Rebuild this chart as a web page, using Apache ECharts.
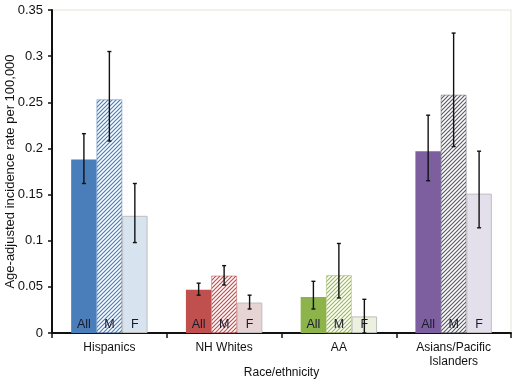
<!DOCTYPE html>
<html><head><meta charset="utf-8">
<script src="https://cdn.jsdelivr.net/npm/echarts@6/dist/echarts.min.js"></script>
<style>html,body{margin:0;padding:0;background:#fff}#c{width:520px;height:383px}</style>
</head><body><div id="c"></div>
<script>
const categories = ['Hispanics', 'NH Whites', 'AA', 'Asians/Pacific\nIslanders'];
const groupLabels = ['All', 'M', 'F'];
const allValues = [0.188, 0.047, 0.039, 0.197];
const allLow    = [0.162, 0.041, 0.026, 0.165];
const allHigh   = [0.216, 0.054, 0.056, 0.236];
const mValues   = [0.253, 0.062, 0.0625, 0.258];
const mLow      = [0.208, 0.052, 0.038, 0.202];
const mHigh     = [0.305, 0.073, 0.097, 0.325];
const fValues   = [0.127, 0.033, 0.018, 0.151];
const fLow      = [0.098, 0.026, 0.0, 0.114];
const fHigh     = [0.162, 0.041, 0.0365, 0.197];
const yTicks = [0, 0.05, 0.1, 0.15, 0.2, 0.25, 0.3, 0.35];

const solidColors = ['#4a7ebb', '#c0504d', '#8db34b', '#7d5fa0'];
const hatchColors = ['#4a7ebb', '#c0504d', '#9bbb59', '#5a5a6a'];
const lightColors = ['#d7e3ee', '#e6d4d4', '#ebf1de', '#e3e0ec'];

function hatch(color) {
  const s = 4;
  const c = document.createElement('canvas');
  c.width = s; c.height = s;
  const g = c.getContext('2d');
  g.fillStyle = '#fff'; g.fillRect(0, 0, s, s);
  g.strokeStyle = color; g.lineWidth = 1.2;
  g.beginPath();
  g.moveTo(0, s); g.lineTo(s, 0);
  g.moveTo(-1, 1); g.lineTo(1, -1);
  g.moveTo(s - 1, s + 1); g.lineTo(s + 1, s - 1);
  g.stroke();
  return { image: c, repeat: 'repeat' };
}

const BAR_FRAC = 0.222;
const labelStyle = (t) => ({ show: true, position: 'insideBottom', distance: 2, formatter: t, color: '#1a1a2e', fontSize: 12.5, fontFamily: 'Liberation Sans, Arial, sans-serif' });

const allData = allValues.map((v, i) => ({ value: v, itemStyle: { color: solidColors[i] } }));
const mData = mValues.map((v, i) => ({ value: v, itemStyle: { color: hatch(hatchColors[i]), borderColor: hatchColors[i], borderWidth: 0.5 } }));
const fData = fValues.map((v, i) => ({ value: v, itemStyle: { color: lightColors[i], borderColor: '#bdbdbd', borderWidth: 1 } }));

const errData = [];
[[allLow, allHigh], [mLow, mHigh], [fLow, fHigh]].forEach((p, s) => {
  categories.forEach((c, i) => errData.push([i, s, p[0][i], p[1][i]]));
});

const chart = echarts.init(document.getElementById('c'));
chart.setOption({
  animation: false,
  textStyle: { fontFamily: 'Liberation Sans, Arial, sans-serif' },
  grid: { left: 52, right: 9, top: 10, bottom: 50, outerBoundsMode: 'none', containLabel: false, show: true, borderColor: '#e4e4d4', borderWidth: 1 },
  xAxis: {
    type: 'category', data: categories,
    name: 'Race/ethnicity', nameLocation: 'middle', nameGap: 34, nameMoveOverlap: false,
    nameTextStyle: { fontSize: 12, color: '#111' },
    axisLine: { lineStyle: { color: '#111', width: 2 } },
    axisTick: { show: true, length: 5, lineStyle: { color: '#111', width: 1.5 } },
    axisLabel: { fontSize: 12, color: '#111', margin: 8, lineHeight: 14, interval: 0 }
  },
  yAxis: {
    type: 'value', min: 0, max: 0.35, interval: 0.05,
    name: 'Age-adjusted incidence rate per 100,000', nameLocation: 'middle', nameGap: 35, nameMoveOverlap: false,
    nameTextStyle: { fontSize: 13, color: '#111' },
    axisLine: { show: true, lineStyle: { color: '#111', width: 2 } },
    axisTick: { show: true, length: 4, lineStyle: { color: '#111', width: 1.5 } },
    axisLabel: { fontSize: 13, color: '#111', margin: 9, formatter: v => String(parseFloat(v.toFixed(2))) },
    splitLine: { show: false }
  },
  series: [
    { type: 'bar', name: groupLabels[0], data: allData, barWidth: (BAR_FRAC * 100) + '%', barGap: '0%', label: labelStyle(groupLabels[0]) },
    { type: 'bar', name: groupLabels[1], data: mData, barWidth: (BAR_FRAC * 100) + '%', barGap: '0%', label: labelStyle(groupLabels[1]) },
    { type: 'bar', name: groupLabels[2], data: fData, barWidth: (BAR_FRAC * 100) + '%', barGap: '0%', label: labelStyle(groupLabels[2]) },
    {
      type: 'custom', data: errData, z: 10,
      renderItem: function (params, api) {
        const cat = api.value(0), s = api.value(1);
        const band = api.size([1, 0])[0];
        const off = (s - 1) * band * BAR_FRAC;
        const lo = api.coord([cat, api.value(2)]);
        const hi = api.coord([cat, api.value(3)]);
        const x = lo[0] + off;
        const cap = 2;
        const st = { stroke: '#111', lineWidth: 1.4 };
        return { type: 'group', children: [
          { type: 'line', shape: { x1: x, y1: lo[1], x2: x, y2: hi[1] }, style: st },
          { type: 'line', shape: { x1: x - cap, y1: lo[1], x2: x + cap, y2: lo[1] }, style: st },
          { type: 'line', shape: { x1: x - cap, y1: hi[1], x2: x + cap, y2: hi[1] }, style: st }
        ] };
      }
    }
  ]
});
</script></body></html>
